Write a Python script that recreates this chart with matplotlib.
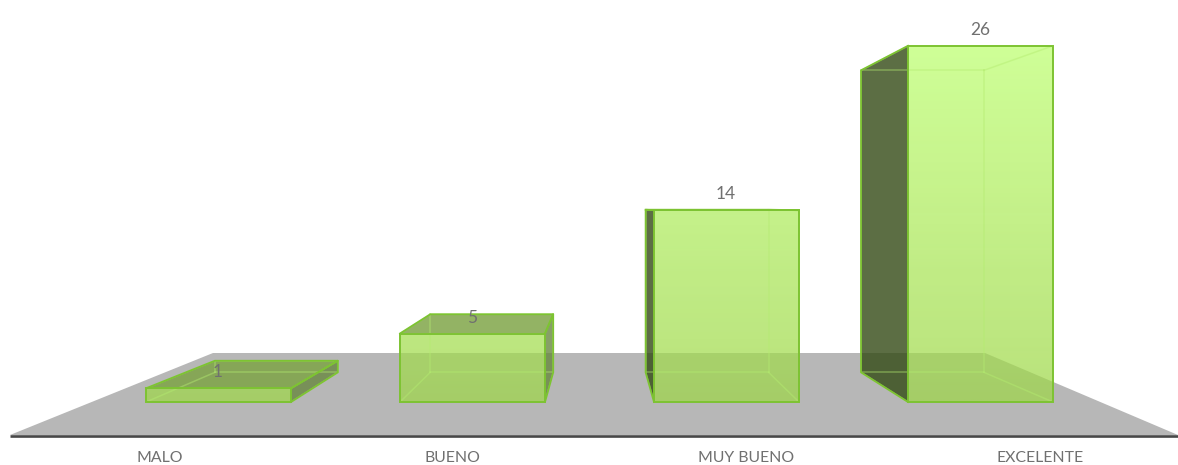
import matplotlib
matplotlib.use('Agg')
import matplotlib.pyplot as plt
from matplotlib.patches import Polygon
import numpy as np

categories = ['MALO', 'BUENO', 'MUY BUENO', 'EXCELENTE']
values = [1, 5, 14, 26]

# Fake 3D set-up, everything in pixels of the picture
VPX, VPY = 599, 207     # vanishing point
BASE = 402              # floor line of the bar fronts
UNIT = 13.7             # pixels per unit of value
LEFT0, STEP = 146, 254  # left edge of first bar, bar spacing
WIDTH = 145
BACK = 0.848            # scale of the back of a bar
LABEL = 1.155           # scale used to spread the category labels

EDGE = '#7dc332'
INNER = '#b4ec70'
DARK = (51 / 255, 74 / 255, 21 / 255)
TOPC = (124 / 255, 163 / 255, 66 / 255)
SIDEC = (105 / 255, 135 / 255, 65 / 255)
TEXT = '#707070'
FONT = ['Lato', 'DejaVu Sans']


def project(x, value, scale):
    'Picture position of a point on a bar.'
    y = BASE - value * UNIT
    return VPX + (x - VPX) * scale, VPY + (y - VPY) * scale


def face(ax, pts, color, alpha, z):
    ax.add_patch(Polygon(pts, closed=True, facecolor=color, alpha=alpha, edgecolor='none', zorder=z))


def stroke(ax, pts):
    ax.plot([p[0] for p in pts], [p[1] for p in pts], color=EDGE, lw=1.3, zorder=8)


def front_face(ax, pts, ytop, ybot):
    'Front of a bar, a soft vertical gradient that depends on picture height.'
    top = np.array([192, 255, 118]) / 255
    bot = np.array([158, 215, 72]) / 255
    t = np.linspace((ytop - 46) / 356, (ybot - 46) / 356, 64)[:, None]
    img = np.zeros((64, 1, 4))
    img[:, :, :3] = (top + (bot - top) * t)[:, None, :].reshape(64, 1, 3)
    img[:, :, 3] = 0.76 - 0.04 * t
    im = ax.imshow(img, extent=(pts[0][0], pts[1][0], ybot, ytop), aspect='auto', zorder=6,
                   interpolation='bilinear')
    im.set_clip_path(Polygon(pts, closed=True, transform=ax.transData))


def draw_bar(ax, i, val):
    xl = LEFT0 + i * STEP
    xr = xl + WIDTH
    fl = project(xl, 0, 1)
    fr = project(xr, 0, 1)
    ftl = project(xl, val, 1)
    ftr = project(xr, val, 1)
    bl = project(xl, 0, BACK)
    br = project(xr, 0, BACK)
    btl = project(xl, val, BACK)
    btr = project(xr, val, BACK)

    # edges seen through the glass, faint
    for a, b in [(btl, btr), (btr, br), (br, bl), (bl, btl), (fl, bl), (fr, br), (ftr, btr), (ftl, btl)]:
        ax.plot([a[0], b[0]], [a[1], b[1]], color=INNER, lw=1.1, alpha=0.45, zorder=7)

    # outer side: the one facing the vanishing point
    if xl > VPX:
        face(ax, [fl, ftl, btl, bl], DARK, 0.8, 4)
        stroke(ax, [ftl, btl, bl, fl])
    else:
        face(ax, [fr, ftr, btr, br], SIDEC, 0.8, 4)
        stroke(ax, [ftr, btr, br, fr])

    # top is only seen from above when it is under the horizon
    if ftl[1] > VPY + 10:
        face(ax, [ftl, ftr, btr, btl], TOPC, 0.82, 5)
        stroke(ax, [ftl, btl, btr, ftr])
    elif abs(ftl[1] - VPY) <= 10:
        stroke(ax, [btl, btr, ftr])

    pts = [fl, fr, ftr, ftl]
    front_face(ax, pts, ftl[1], fl[1])
    ax.add_patch(Polygon(pts, closed=True, fill=False, edgecolor=EDGE, lw=1.4, zorder=8))

    ax.text((xl + xr) / 2 - 0.5, ftl[1] - 16, str(val), ha='center', va='center', color=TEXT,
            fontsize=12.5, family=FONT, zorder=10)


fig = plt.figure(figsize=(11.78, 4.65), dpi=100)
ax = fig.add_axes([0, 0, 1, 1])

# floor and axis line
ax.add_patch(Polygon([(10, 435), (213, 353), (985, 353), (1178, 435)], closed=True,
                     facecolor='#b7b7b7', edgecolor='none', zorder=1))
ax.plot([10, 1178], [435.5, 435.5], color='#474747', lw=1.9, solid_capstyle='butt', zorder=2)

for i, val in enumerate(values):
    draw_bar(ax, i, val)

for i, name in enumerate(categories):
    xc = LEFT0 + i * STEP + WIDTH / 2
    ax.text(VPX + (xc - VPX) * LABEL, 458, name, ha='center', va='center', color=TEXT,
            fontsize=11.4, family=FONT)

ax.set_xlim(0, 1178)
ax.set_ylim(465, 0)
ax.axis('off')
fig.savefig('out.png', dpi=100)
